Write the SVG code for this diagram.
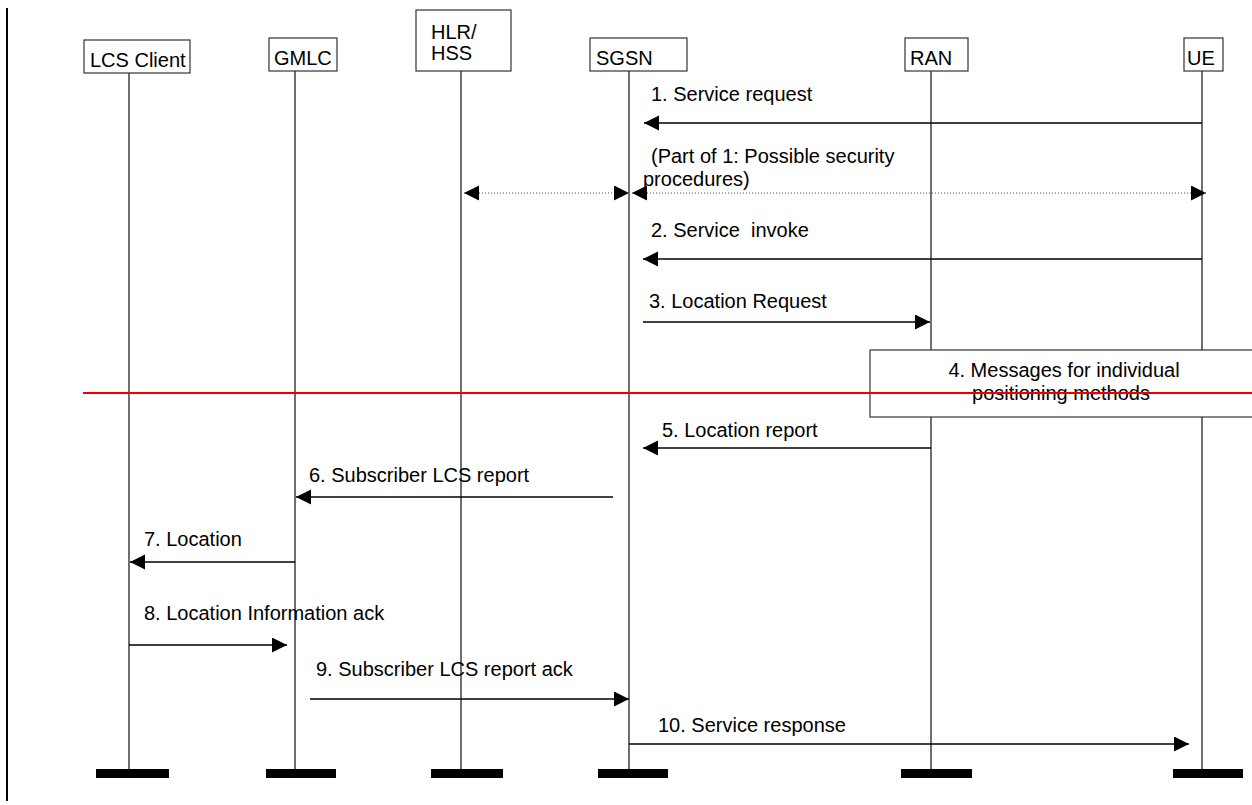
<svg xmlns="http://www.w3.org/2000/svg" width="1252" height="805" viewBox="0 0 1252 805">
<style>
text{font-family:"Liberation Sans",Arial,sans-serif;font-size:20px;fill:#000}
.box{fill:#fff;stroke:#333;stroke-width:1.2}
.life{stroke:#222;stroke-width:1.3}
.bar{fill:#000}
.msg{stroke:#000;stroke-width:1.3;fill:none}
.dot{stroke:#555;stroke-width:1.2;stroke-dasharray:1 2;fill:none}
</style>
<defs>
<marker id="ah" markerUnits="userSpaceOnUse" markerWidth="16" markerHeight="16" refX="15" refY="7.5" orient="auto-start-reverse">
<path d="M0,0 L15,7.5 L0,15 Z" fill="#000"/>
</marker>
</defs>
<rect width="1252" height="805" fill="#fff"/>
<line x1="7" y1="8" x2="7" y2="801" stroke="#000" stroke-width="2"/>
<g id="lcs-client">
<line class="life" x1="129" y1="73" x2="129" y2="770"/>
<rect class="box" x="84" y="40" width="106" height="33"/>
<text x="90" y="67">LCS Client</text>
<rect class="bar" x="96" y="769" width="73" height="9"/>
</g>
<g id="gmlc">
<line class="life" x1="295" y1="71" x2="295" y2="770"/>
<rect class="box" x="269" y="38" width="68" height="33"/>
<text x="274" y="65">GMLC</text>
<rect class="bar" x="266" y="769" width="70" height="9"/>
</g>
<g id="hlr-hss">
<line class="life" x1="461" y1="71" x2="461" y2="770"/>
<rect class="box" x="416" y="10" width="95" height="61"/>
<text x="431" y="39">HLR/</text>
<text x="431" y="60">HSS</text>
<rect class="bar" x="431" y="769" width="72" height="9"/>
</g>
<g id="sgsn">
<line class="life" x1="629" y1="71" x2="629" y2="770"/>
<rect class="box" x="590" y="38" width="97" height="33"/>
<text x="596" y="65">SGSN</text>
<rect class="bar" x="598" y="769" width="70" height="9"/>
</g>
<g id="ran">
<line class="life" x1="931" y1="71" x2="931" y2="770"/>
<rect class="box" x="905" y="38" width="63" height="33"/>
<text x="910" y="65">RAN</text>
<rect class="bar" x="901" y="769" width="71" height="9"/>
</g>
<g id="ue">
<line class="life" x1="1202" y1="71" x2="1202" y2="770"/>
<rect class="box" x="1184" y="38" width="39" height="33"/>
<text x="1187" y="65">UE</text>
<rect class="bar" x="1173" y="769" width="70" height="9"/>
</g>
<g id="step4">
<rect class="box" x="870" y="350" width="390" height="67"/>
<text x="1064" y="377" text-anchor="middle">4. Messages for individual</text>
<text x="1061" y="400" text-anchor="middle">positioning methods</text>
</g>
<line x1="83" y1="393" x2="1252" y2="393" stroke="#e00" stroke-width="2"/>
<g id="connectors">
<line class="msg" x1="1202" y1="123" x2="644" y2="123" marker-end="url(#ah)"/>
<text x="651" y="101">1. Service request</text>
<line class="dot" x1="464" y1="193" x2="629" y2="193" marker-start="url(#ah)" marker-end="url(#ah)"/>
<line class="dot" x1="632" y1="193" x2="1206" y2="193" marker-start="url(#ah)" marker-end="url(#ah)"/>
<text x="651" y="163">(Part of 1: Possible security</text>
<text x="643" y="186">procedures)</text>
<line class="msg" x1="1202" y1="259" x2="643" y2="259" marker-end="url(#ah)"/>
<text x="651" y="237" xml:space="preserve">2. Service  invoke</text>
<line class="msg" x1="643" y1="322" x2="930" y2="322" marker-end="url(#ah)"/>
<text x="649" y="308">3. Location Request</text>
<line class="msg" x1="931" y1="448" x2="643" y2="448" marker-end="url(#ah)"/>
<text x="662" y="437">5. Location report</text>
<line class="msg" x1="613" y1="497" x2="296" y2="497" marker-end="url(#ah)"/>
<text x="309" y="482">6. Subscriber LCS report</text>
<line class="msg" x1="295" y1="562" x2="130" y2="562" marker-end="url(#ah)"/>
<text x="144" y="546">7. Location</text>
<line class="msg" x1="129" y1="645" x2="287" y2="645" marker-end="url(#ah)"/>
<text x="144" y="620">8. Location Information ack</text>
<line class="msg" x1="310" y1="699" x2="629" y2="699" marker-end="url(#ah)"/>
<text x="316" y="676">9. Subscriber LCS report ack</text>
<line class="msg" x1="629" y1="744" x2="1189" y2="744" marker-end="url(#ah)"/>
<text x="658" y="732">10. Service response</text>
</g>
</svg>
